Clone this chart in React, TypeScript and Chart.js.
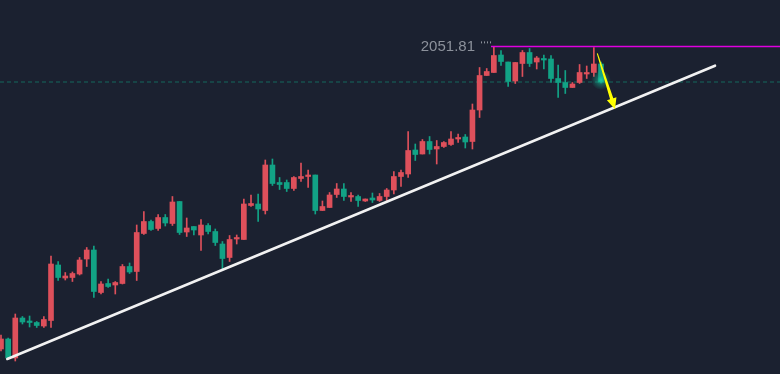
import React, { useEffect, useRef } from 'react';
import { Chart, registerables } from 'chart.js';

Chart.register(...registerables);

// OHLC values (price), one per candle
const opens = [
  1900.5, 1905.5, 1896, 1916, 1914.5, 1913.75, 1912, 1914.75, 1942.5, 1936,
  1936.25, 1938, 1945.5, 1950, 1928.75, 1933.25, 1932.5, 1933.25, 1941.75, 1939.25,
  1958.25, 1964.25, 1960.75, 1966.25, 1963.25, 1974.25, 1959, 1961.75, 1957.5, 1962.25,
  1959.25, 1953, 1946.25, 1955.5, 1955.25, 1972.25, 1973, 1969.75, 1992.5, 1983.75,
  1983.75, 1980.75, 1985.75, 1986.75, 1987.5, 1969.75, 1971.25, 1977.75, 1980.5, 1976.5,
  1976.75, 1974.5, 1976, 1974.75, 1976.75, 1980, 1986.75, 1988, 2000, 1998,
  2004.25, 2000.5, 2001.75, 2002.75, 2005.5, 2006.5, 2004.25, 2020, 2037.25, 2038.75,
  2047.5, 2044, 2034.5, 2043.25, 2048.75, 2044, 2045.75, 2045.5, 2035.75, 2033.75,
  2031.25, 2033.75, 2038, 2038.75, 2043,
];
const highs = [
  1907.5, 1906, 1918, 1916.75, 1917, 1914.25, 1916.75, 1947, 1944.25, 1938.75,
  1939, 1946.25, 1951.25, 1952, 1934.25, 1935.5, 1934.25, 1942.75, 1943.5, 1962.5,
  1969.25, 1965, 1967.75, 1967.75, 1976.75, 1974.25, 1966, 1961.75, 1965.25, 1963.25,
  1960.5, 1954.25, 1957.25, 1957.5, 1975.5, 1977.5, 1978, 1995, 1995.5, 1986.25,
  1985, 1986.75, 1993.5, 1990, 1987.5, 1974.5, 1978.75, 1983.25, 1983.25, 1978.75,
  1977.5, 1975.5, 1978.5, 1978.25, 1980.75, 1989.25, 1990, 2009.25, 2003, 2005.25,
  2006.75, 2004.75, 2004.25, 2009.25, 2008, 2007.75, 2023, 2041.25, 2040.75, 2051.81,
  2049.75, 2044, 2043.75, 2049.75, 2050.75, 2046.75, 2047.5, 2047.25, 2042.5, 2039.75,
  2033.75, 2042.75, 2042, 2051.25, 2044,
];
const lows = [
  1899.5, 1895.5, 1894.5, 1913, 1911.5, 1911.25, 1911.25, 1911.25, 1934.75, 1935,
  1934.25, 1937.5, 1941.75, 1926.25, 1928, 1931.25, 1928, 1933, 1938.25, 1934.75,
  1957.75, 1959.75, 1959.75, 1962, 1962.25, 1957.75, 1956.75, 1957.5, 1949.75, 1958,
  1952.25, 1939.75, 1944.25, 1953, 1955.25, 1971.75, 1964.25, 1968, 1982.25, 1980.25,
  1979.25, 1979.75, 1984.25, 1981.25, 1968, 1969.75, 1971.25, 1976.25, 1974.75, 1974.25,
  1971.75, 1974.25, 1973.75, 1974.25, 1974.75, 1978, 1981.75, 1986.25, 1994.75, 1998,
  1998, 1993, 2001.25, 2002.25, 2003.75, 2001, 2000.5, 2016.25, 2037.25, 2038.75,
  2042.25, 2031.75, 2033.25, 2036.75, 2041.75, 2040.5, 2040.5, 2033.75, 2026.25, 2028.25,
  2031.25, 2033.25, 2035.75, 2036.75, 2033.5,
];
const closes = [
  1905.5, 1896, 1916, 1914, 1913.75, 1912.25, 1915.25, 1943, 1936.25, 1937,
  1938.25, 1945, 1950, 1929.25, 1933, 1931.75, 1933.75, 1941.75, 1939, 1958.75,
  1964.25, 1960.25, 1966.25, 1963.5, 1974, 1958.75, 1961, 1960, 1962.5, 1959.25,
  1953.75, 1945.75, 1955.25, 1956.25, 1973, 1973.25, 1970.5, 1992.5, 1983.25, 1982.75,
  1980.75, 1986.25, 1986.75, 1987.5, 1969.75, 1971.75, 1977.5, 1980.5, 1976.75, 1977.25,
  1974.75, 1975.5, 1975, 1976.75, 1980, 1986.75, 1988.75, 1999.75, 1997.75, 2004.25,
  2000.25, 2001.75, 2003.75, 2005.5, 2006.25, 2004, 2020, 2037.25, 2039.25, 2047.25,
  2044.25, 2034.25, 2043.75, 2048.75, 2043.25, 2046, 2045, 2035.75, 2033.75, 2031.25,
  2033, 2038.75, 2038.75, 2043, 2034,
];

// Drawings
const trendX = [0.88, 99.96];
const trendY = [1895.5, 2042.15];
const resistancePrice = 2051.81;
const resistanceLabel = '2051.81';
const resistanceStartX = 68.6;
const lastPrice = 2034;
const arrowStart = [83.48, 2048.35];
const arrowEnd = [85.96, 2020.35];

const X_MIN = -0.14;
const X_MAX = 109.06;
const Y_MIN = 1888;
const Y_MAX = 2075;

const BG = '#1b2130';
const UP = '#de505b';
const DOWN = '#12a285';

const overlayPlugin = {
  id: 'overlay',
  afterDatasetsDraw(chart: any) {
    const ctx = chart.ctx;
    const xs = chart.scales.x;
    const ys = chart.scales.y;
    // glow on last candle
    const gx = xs.getPixelForValue(opens.length - 1);
    const gy = ys.getPixelForValue(lastPrice + 1);
    const grad = ctx.createRadialGradient(gx, gy, 0, gx, gy, 10);
    grad.addColorStop(0, 'rgba(30,210,170,0.85)');
    grad.addColorStop(0.45, 'rgba(20,170,140,0.45)');
    grad.addColorStop(1, 'rgba(20,170,140,0)');
    ctx.save();
    ctx.fillStyle = grad;
    ctx.beginPath();
    ctx.arc(gx, gy, 10, 0, Math.PI * 2);
    ctx.fill();
    ctx.restore();

    // label
    const lx = xs.getPixelForValue(resistanceStartX);
    const ly = ys.getPixelForValue(resistancePrice);
    ctx.save();
    ctx.font = '15px "Liberation Sans", Arial, sans-serif';
    ctx.fillStyle = '#8c919b';
    ctx.textAlign = 'right';
    ctx.textBaseline = 'middle';
    ctx.fillText(resistanceLabel, lx - 16, ly);
    ctx.fillStyle = '#8c919b';
    for (let k = 0; k < 4; k++) {
      ctx.fillRect(lx - 10 + k * 3, ly - 5, 1, 2);
    }
    ctx.restore();

    // yellow arrow
    const sx = xs.getPixelForValue(arrowStart[0]);
    const sy = ys.getPixelForValue(arrowStart[1]);
    const ex = xs.getPixelForValue(arrowEnd[0]);
    const ey = ys.getPixelForValue(arrowEnd[1]);
    const dx = ex - sx;
    const dy = ey - sy;
    const len = Math.hypot(dx, dy);
    const ux = dx / len;
    const uy = dy / len;
    const nx = -uy;
    const ny = ux;
    const headLen = 11;
    const headHalf = 5;
    const bx = ex - ux * headLen;
    const by = ey - uy * headLen;
    ctx.save();
    ctx.fillStyle = '#ffff00';
    ctx.beginPath();
    ctx.moveTo(sx + nx * 0.5, sy + ny * 0.5);
    ctx.lineTo(bx + nx * 1.7, by + ny * 1.7);
    ctx.lineTo(bx + nx * headHalf, by + ny * headHalf);
    ctx.lineTo(ex, ey);
    ctx.lineTo(bx - nx * headHalf, by - ny * headHalf);
    ctx.lineTo(bx - nx * 1.7, by - ny * 1.7);
    ctx.lineTo(sx - nx * 0.5, sy - ny * 0.5);
    ctx.closePath();
    ctx.fill();
    ctx.restore();
  },
};

export default function App() {
  const ref = useRef<HTMLCanvasElement | null>(null);

  useEffect(() => {
    document.body.style.margin = '0';
    document.body.style.background = BG;
    const canvas = ref.current;
    if (!canvas) return;
    const colors = closes.map((c, i) => (c >= opens[i] ? UP : DOWN));
    const chart = new Chart(canvas, {
      type: 'bar',
      data: {
        datasets: [
          {
            type: 'line',
            data: [
              { x: X_MIN, y: lastPrice },
              { x: X_MAX, y: lastPrice },
            ],
            borderColor: 'rgba(18,150,125,0.6)',
            borderWidth: 1,
            borderDash: [4, 3],
            pointRadius: 0,
            order: 10,
          } as any,
          {
            type: 'bar',
            data: lows.map((l, i) => ({ x: i, y: [l, highs[i]] })),
            backgroundColor: colors,
            barThickness: 1,
            grouped: false,
            order: 6,
          } as any,
          {
            type: 'bar',
            data: opens.map((o, i) => ({ x: i, y: [o, closes[i]] })),
            backgroundColor: colors,
            barThickness: 5,
            grouped: false,
            order: 5,
          } as any,
          {
            type: 'line',
            data: [
              { x: resistanceStartX, y: resistancePrice },
              { x: X_MAX, y: resistancePrice },
            ],
            borderColor: '#e000e0',
            borderWidth: 1.5,
            pointRadius: 0,
            order: 2,
          } as any,
          {
            type: 'line',
            data: [
              { x: trendX[0], y: trendY[0] },
              { x: trendX[1], y: trendY[1] },
            ],
            borderColor: '#f2f2f2',
            borderWidth: 2.6,
            borderCapStyle: 'round',
            pointRadius: 0,
            order: 1,
          } as any,
        ],
      },
      options: {
        responsive: false,
        animation: false,
        devicePixelRatio: 1,
        layout: { padding: 0 },
        plugins: { legend: { display: false }, tooltip: { enabled: false } },
        scales: {
          x: { type: 'linear', min: X_MIN, max: X_MAX, offset: false, display: false },
          y: { type: 'linear', min: Y_MIN, max: Y_MAX, display: false },
        },
      } as any,
      plugins: [overlayPlugin],
    });
    return () => chart.destroy();
  }, []);

  return (
    <div style={{ position: 'fixed', left: 0, top: 0, width: 780, height: 374, background: BG }}>
      <canvas ref={ref} width={780} height={374} style={{ display: 'block' }} />
    </div>
  );
}
